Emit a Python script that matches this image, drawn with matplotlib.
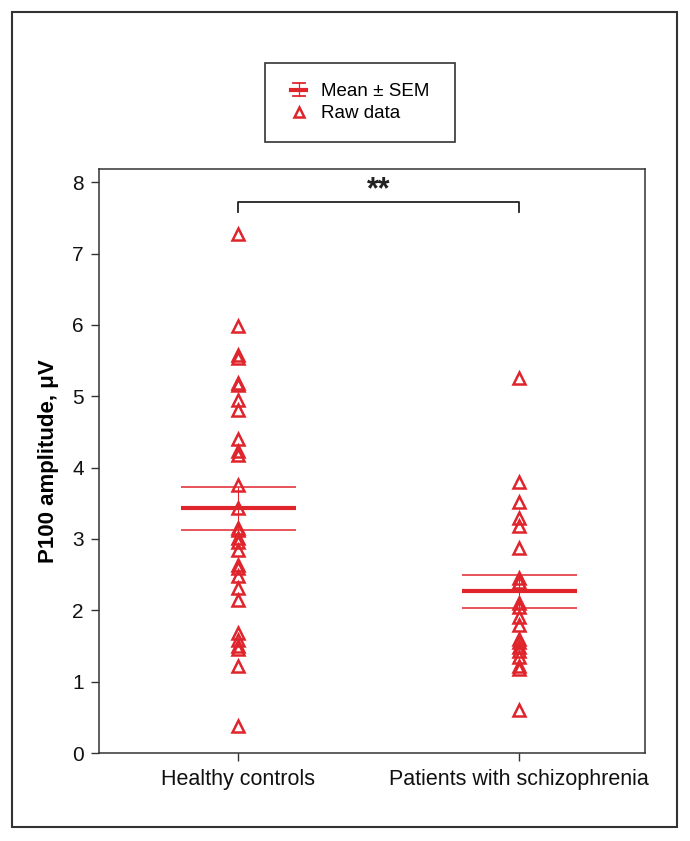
#!/usr/bin/env python3
"""P100 amplitude: healthy controls vs patients with schizophrenia (raw data + mean ± SEM)."""

import numpy as np
import matplotlib
matplotlib.use("Agg")
import matplotlib.pyplot as plt
from matplotlib.patches import Rectangle
from matplotlib.lines import Line2D
from matplotlib.legend_handler import HandlerBase

# ---- data ----
groups = ["Healthy controls", "Patients with schizophrenia"]

healthy = [7.27, 5.98, 5.58, 5.54, 5.19, 5.16, 4.95, 4.81, 4.40, 4.23, 4.18,
           3.76, 3.44, 3.16, 3.12, 3.02, 2.96, 2.84, 2.63, 2.59, 2.48, 2.32,
           2.14, 1.68, 1.58, 1.50, 1.46, 1.22, 0.38]
patients = [5.26, 3.80, 3.52, 3.30, 3.18, 2.87, 2.45, 2.40, 2.10, 2.05, 1.90,
            1.80, 1.60, 1.55, 1.48, 1.43, 1.35, 1.22, 1.18, 0.61]

group_means = [3.43, 2.265]
group_sems = [0.30, 0.235]

significance = "**"
y_ticks = [0, 1, 2, 3, 4, 5, 6, 7, 8]

RED = "#e0242c"
DARK = "#333333"


class MeanSemHandler(HandlerBase):
    """Legend glyph: thin vertical bar with caps and a thick mean line."""

    def create_artists(self, legend, orig_handle, xdescent, ydescent,
                       width, height, fontsize, trans):
        cx = width / 2 - xdescent
        cy = height / 2 - ydescent
        h = 0.36 * fontsize
        cap = 0.33 * fontsize
        mid = 0.40 * fontsize
        parts = [
            Line2D([cx, cx], [cy - h, cy + h], color=RED, lw=0.9),
            Line2D([cx - cap, cx + cap], [cy + h, cy + h], color=RED, lw=1.3),
            Line2D([cx - cap, cx + cap], [cy - h, cy - h], color=RED, lw=1.3),
            Line2D([cx - mid, cx + mid], [cy, cy], color=RED, lw=3),
        ]
        for p in parts:
            p.set_transform(trans)
        return parts


plt.rcParams["font.family"] = ["Liberation Sans", "DejaVu Sans"]

fig = plt.figure(figsize=(6.9, 8.41), dpi=100)
ax = fig.add_axes([0.1435, 0.1046, 0.7913, 0.6948])

positions = np.arange(1, len(groups) + 1)
half_width = 0.205

# mean and SEM lines
for pos, m, s in zip(positions, group_means, group_sems):
    ax.hlines(m, pos - half_width, pos + half_width, color=RED, lw=3, zorder=2)
    ax.hlines([m - s, m + s], pos - half_width, pos + half_width, color=RED, lw=1.1, zorder=2)
    ax.vlines(pos, m - s, m + s, color=RED, lw=0.8, zorder=2)

# raw data
for pos, vals in zip(positions, [healthy, patients]):
    ax.plot(np.full(len(vals), pos), vals, linestyle="none", marker="^",
            markersize=8.5, markerfacecolor="none", markeredgecolor=RED,
            markeredgewidth=1.8, zorder=3)

# significance bracket
y_br, y_drop = 7.73, 7.59
ax.plot([positions[0], positions[0], positions[1], positions[1]],
        [y_drop, y_br, y_br, y_drop], color="#222222", lw=1.3, clip_on=False)
ax.text(positions.mean(), 7.89, significance, ha="center", va="center",
        fontsize=22, fontweight="bold", color="#222222")

ax.set_xlim(0.505, 2.448)
ax.set_ylim(0, 8.19)
ax.set_xticks(positions)
ax.set_xticklabels(groups)
ax.set_yticks(y_ticks)
ax.set_ylabel("P100 amplitude, μV", fontsize=16, fontweight="bold", labelpad=9)

ax.tick_params(axis="both", direction="out", length=6, width=1.0, color=DARK,
               labelsize=15, labelcolor="#111111")
ax.tick_params(axis="y", pad=5)
ax.tick_params(axis="x", pad=5.5, labelsize=15.5)
for side in ["top", "right", "bottom", "left"]:
    ax.spines[side].set_color(DARK)
    ax.spines[side].set_linewidth(1.1)

# legend (proxy artists), box drawn separately
mean_proxy = Line2D([], [], color=RED)
raw_proxy = Line2D([], [], linestyle="none", marker="^", markersize=7.5,
                   markerfacecolor="none", markeredgecolor=RED, markeredgewidth=1.8)
fig.legend([mean_proxy, raw_proxy], ["Mean ± SEM", "Raw data"],
           handler_map={mean_proxy: MeanSemHandler()},
           loc="center", bbox_to_anchor=(0.521, 0.878), frameon=False,
           fontsize=13.5, handlelength=1.0, handletextpad=0.7,
           labelspacing=0.25, borderpad=0)
fig.add_artist(Rectangle((0.3841, 0.8312), 0.2754, 0.0939, transform=fig.transFigure,
                         fill=False, edgecolor=DARK, lw=1.2))

# outer frame
fig.add_artist(Rectangle((0.0174, 0.01665), 0.9638, 0.969, transform=fig.transFigure,
                         fill=False, edgecolor=DARK, lw=1.5))

fig.savefig("out.png", dpi=100)
